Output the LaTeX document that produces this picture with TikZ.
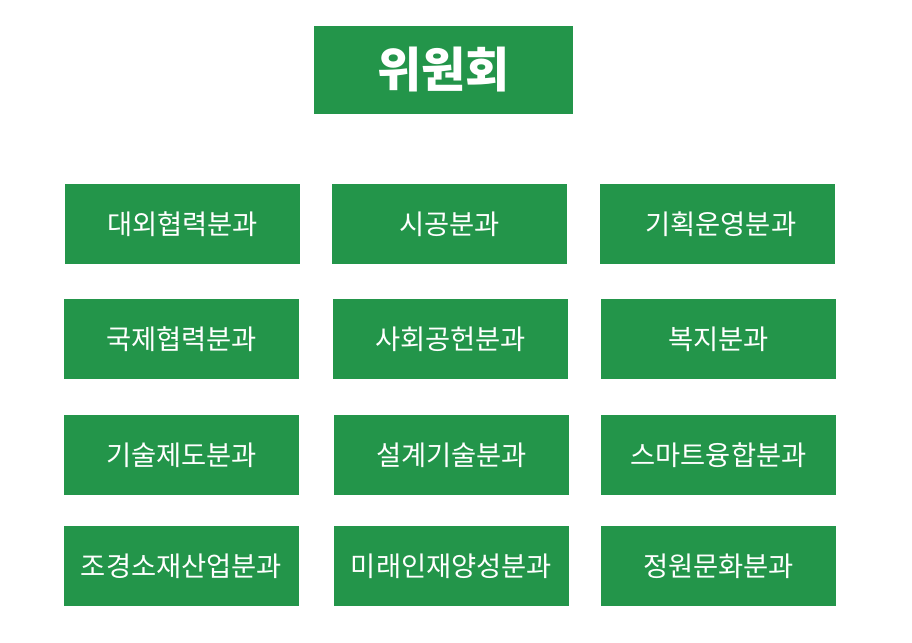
\documentclass[tikz,border=0pt]{standalone}
\usepackage{fontspec}
\setmainfont{Noto Sans CJK KR}
\usepackage{xcolor}
\usetikzlibrary{positioning}
\definecolor{orggreen}{HTML}{23954A}

\begin{document}
\begin{tikzpicture}[
  x=0.75pt, y=-0.75pt,
  unit/.style={fill=orggreen, text=white, inner sep=0pt, minimum width=176.25pt, minimum height=60pt, font=\fontsize{20.5pt}{22pt}\selectfont},
  board/.style={unit, minimum width=194.25pt, minimum height=66pt, font=\fontsize{36pt}{38pt}\selectfont\bfseries}
]
\useasboundingbox (0,0) rectangle (912,642);
\node[board] (committee) at (443.5,70) {위원회};
% first row
\node[unit] (external) at (182.5,224) {대외협력분과};
\node[unit] (construct) at (449.5,224) {시공분과};
\node[unit] (planning) at (717.5,224) {\hspace{5pt}기획운영분과};
% second row
\node[unit] (intl) at (181.5,339) {국제협력분과};
\node[unit] (social) at (450.5,339) {사회공헌분과};
\node[unit] (welfare) at (718.5,339) {복지분과};
% third row
\node[unit] (techsys) at (181.5,455) {기술제도분과};
\node[unit] (design) at (451.5,455) {설계기술분과};
\node[unit] (smart) at (718.5,455) {스마트융합분과};
% fourth row
\node[unit] (material) at (181.5,566) {조경소재산업분과};
\node[unit] (talent) at (451.5,566) {미래인재양성분과};
\node[unit] (culture) at (718.5,566) {정원문화분과};
\end{tikzpicture}
\end{document}
